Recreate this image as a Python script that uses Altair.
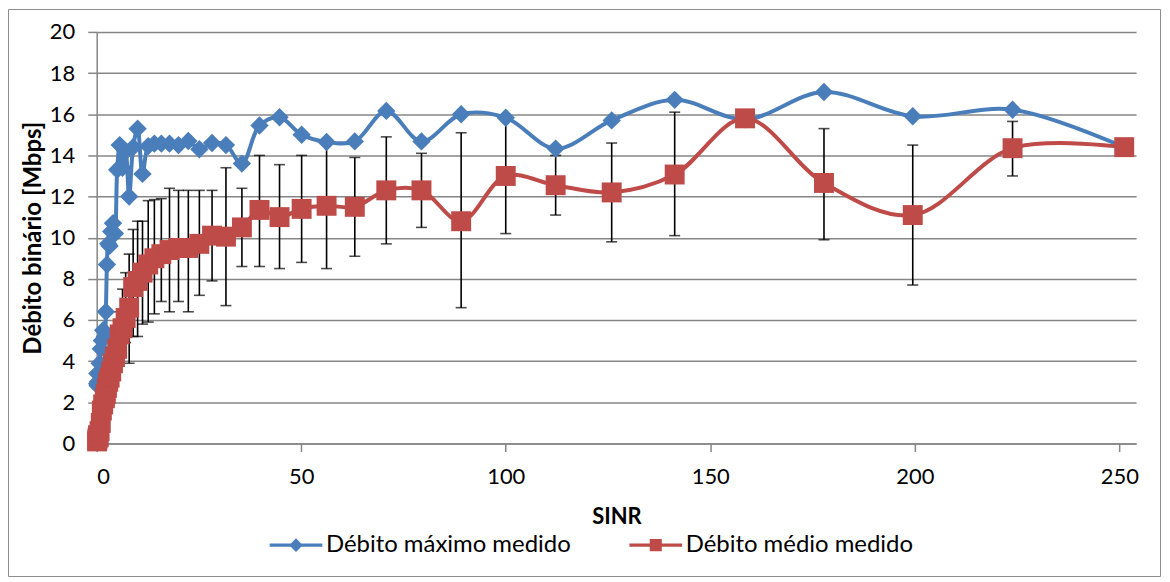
import altair as alt
import pandas as pd

# ---- data ----
sinr = [0.1, 0.16, 0.25, 0.32, 0.5, 0.71, 1.0, 1.26, 1.58, 2.0,
        2.24, 2.51, 2.82, 3.16, 3.55, 3.98, 4.47, 5.01, 5.62, 6.31,
        7.08, 7.94, 8.91, 10.0, 11.2, 12.6, 14.1, 15.8, 17.8, 20.0,
        22.4, 25.1, 28.2, 31.6, 35.5, 39.8, 44.7, 50.1, 56.2, 63.1,
        70.8, 79.4, 89.1, 100.0, 112.2, 125.9, 141.3, 158.5, 177.8, 199.5,
        223.9, 251.2]

debito_max = [2.9, 3.4, 2.8, 3.0, 3.4, 3.9, 4.6, 5.0, 5.5, 5.2,
              6.4, 8.7, 9.7, 9.6, 10.3, 10.7, 10.2, 13.3, 14.5, 13.4,
              14.2, 12.0, 14.4, 15.3, 13.1, 14.45, 14.57, 14.57, 14.57, 14.5,
              14.7, 14.3, 14.6, 14.5, 13.6, 15.45, 15.85, 15.0, 14.65, 14.68,
              16.16, 14.68, 16.0, 15.83, 14.33, 15.7, 16.7, 15.75, 17.08, 15.9,
              16.22, 14.4]

debito_medio = [0.1, 0.2, 0.3, 0.4, 0.3, 0.6, 1.0, 1.6, 1.9, 2.2,
                2.4, 2.7, 3.0, 3.2, 3.5, 3.9, 4.2, 4.6, 5.3, 5.6,
                6.1, 6.6, 7.6, 7.9, 8.3, 8.7, 9.0, 9.2, 9.4, 9.5,
                9.5, 9.7, 10.1, 10.05, 10.5, 11.35, 11.0, 11.4, 11.55, 11.5,
                12.3, 12.3, 10.8, 13.0, 12.55, 12.2, 13.07, 15.8, 12.66, 11.1,
                14.35, 14.4]

erro_inf = [0.0, 0.1, 0.2, 0.3, 0.2, 0.4, 0.8, 1.3, 1.6, 1.9,
            2.1, 2.3, 2.6, 2.8, 3.1, 3.4, 3.6, 3.9, 4.6, 5.0,
            4.9, 3.9, 5.2, 5.2, 5.8, 5.9, 6.3, 6.9, 6.4, 6.9,
            6.4, 7.2, 7.9, 6.7, 8.6, 8.6, 8.5, 8.8, 8.5, 9.1,
            9.7, 10.5, 6.6, 10.2, 11.1, 9.8, 10.1, 15.6, 9.9, 7.7,
            13.0, 14.3]

erro_sup = [0.2, 0.3, 0.4, 0.5, 0.4, 0.8, 1.2, 1.9, 2.2, 2.5,
            2.8, 3.1, 3.4, 3.6, 4.0, 4.5, 4.9, 5.4, 6.4, 7.5,
            8.3, 9.2, 10.4, 10.8, 10.8, 11.8, 11.85, 11.9, 12.4, 12.3,
            12.3, 12.3, 12.3, 13.4, 12.4, 14.0, 13.55, 14.0, 14.6, 13.9,
            14.9, 14.1, 15.1, 15.9, 14.0, 14.6, 16.1, 16.0, 15.3, 14.5,
            15.65, 14.5]

x_ticks = [0, 50, 100, 150, 200, 250]
y_ticks = [0, 2, 4, 6, 8, 10, 12, 14, 16, 18, 20]

NAME_MAX = "Débito máximo medido"
NAME_MED = "Débito médio medido"
BLUE = "#4A7EBB"
RED = "#BE4B48"
GRID = "#868686"
FONT = "Lato"

df = pd.DataFrame({
    "sinr": sinr,
    "maxv": debito_max,
    "medv": debito_medio,
    "lo": erro_inf,
    "hi": erro_sup,
})
df["s_max"] = NAME_MAX
df["s_med"] = NAME_MED

W, H = 1043, 413


def X():
    return alt.X("sinr:Q",
                 scale=alt.Scale(domain=[0, 254.1], nice=False, zero=False),
                 axis=alt.Axis(values=x_ticks, title="SINR", grid=False,
                               tickSize=8, labelPadding=15, titlePadding=19))


def Y(field):
    return alt.Y(f"{field}:Q",
                 scale=alt.Scale(domain=[0, 20], nice=False),
                 axis=alt.Axis(values=y_ticks, title="Débito binário [Mbps]",
                               grid=True, tickSize=9, labelPadding=13,
                               titlePadding=4, titleFontSize=24))


base = alt.Chart(df)

err_rule = base.mark_rule(color="black", strokeWidth=1.6).encode(
    x=X(), y=Y("lo"), y2="hi")
cap_lo = base.mark_tick(color="black", orient="horizontal", size=11,
                        thickness=1.6).encode(x=X(), y=Y("lo"))
cap_hi = base.mark_tick(color="black", orient="horizontal", size=11,
                        thickness=1.6).encode(x=X(), y=Y("hi"))

line_max = base.mark_line(color=BLUE, strokeWidth=4,
                          interpolate="catmull-rom").encode(x=X(), y=Y("maxv"))
line_med = base.mark_line(color=RED, strokeWidth=4,
                          interpolate="catmull-rom").encode(x=X(), y=Y("medv"))

DIAMOND_PATH = ("M-2.4,-0.14L2.4,-0.14L2.4,0.14L-2.4,0.14Z"
                "M0,-0.62L0.62,0L0,0.62L-0.62,0Z")
SQUARE_PATH = ("M-2.4,-0.14L2.4,-0.14L2.4,0.14L-2.4,0.14Z"
               "M-0.55,-0.55L0.55,-0.55L0.55,0.55L-0.55,0.55Z")


def legend(px, path):
    return alt.Legend(title=None, orient="none", legendX=px, legendY=503,
                      symbolType=path, symbolSize=484, symbolStrokeWidth=0,
                      labelOffset=18, labelFontSize=24, labelFont=FONT,
                      labelLimit=600, labelColor="black", padding=0,
                      symbolOpacity=1)


pts_max = base.mark_point(filled=True, shape="diamond", size=340,
                          opacity=1).encode(
    x=X(), y=Y("maxv"),
    color=alt.Color("s_max:N",
                    scale=alt.Scale(domain=[NAME_MAX], range=[BLUE]),
                    legend=legend(188, DIAMOND_PATH)))

pts_med = base.mark_point(filled=True, shape="square", size=400,
                          opacity=1).encode(
    x=X(), y=Y("medv"),
    color=alt.Color("s_med:N",
                    scale=alt.Scale(domain=[NAME_MED], range=[RED]),
                    legend=legend(549, SQUARE_PATH)))

border = alt.Chart(pd.DataFrame({"k": [0]})).mark_rect(
    fill=None, stroke="#8c8c8c", strokeWidth=1).encode(
    x=alt.value(-88.5), x2=alt.value(1067.5),
    y=alt.value(-22.5), y2=alt.value(546.5))

chart = alt.layer(
    border, err_rule, cap_lo, cap_hi, line_max, pts_max, line_med, pts_med
).resolve_scale(color="independent").properties(
    width=W, height=H,
    autosize=alt.AutoSizeParams(type="none"),
    padding={"left": 89, "top": 23, "right": 26, "bottom": 136},
).configure_view(stroke=None).configure_axis(
    labelFont=FONT, labelFontSize=22, labelColor="black",
    titleFont=FONT, titleFontSize=22, titleFontWeight="bold", titleColor="black",
    domainColor=GRID, domainWidth=1.5, tickColor=GRID, tickWidth=1.5,
    gridColor=GRID, gridWidth=1.5, gridOpacity=1,
).configure_axisX(domain=True).configure_axisY(domain=True)

chart.save("out.html", embed_options={"renderer": "svg", "actions": False})
